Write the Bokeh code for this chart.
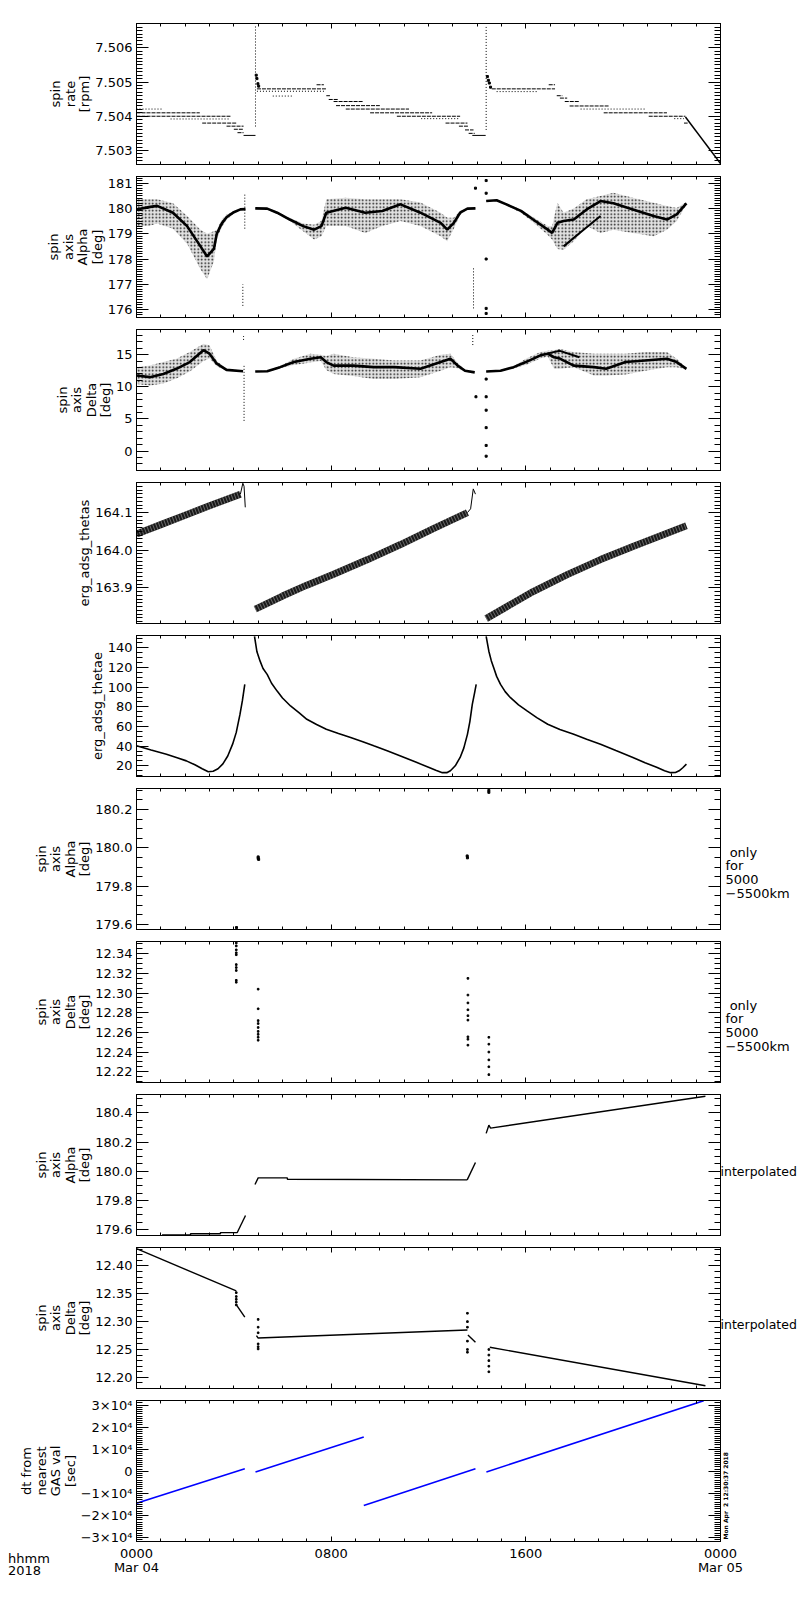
import numpy as np
from bokeh.plotting import figure
from bokeh.layouts import column
from bokeh.models import Range1d, LinearAxis, SingleIntervalTicker, PrintfTickFormatter, Div
from bokeh.embed import file_html
from bokeh.resources import INLINE

FONT = "DejaVu Sans"
FS = "13px"
NB = "\u00a0"

# ---------------- x axis ----------------
hour_ticks = [0, 8, 16, 24]
hour_labels = ["0000\nMar 04", "0800", "1600", "0000\nMar 05"]

# ---------------- panel 1 : spin rate ----------------
sr_t0 = [0.0, 0.0, 0.0, 1.4, 2.7, 3.7, 4.0, 4.15, 4.4,
         4.95, 4.95, 5.6, 7.4, 7.8, 7.9, 8.1, 8.2, 8.6, 9.6, 10.7, 11.7, 12.7, 13.25, 13.5, 13.65, 13.8,
         14.6, 14.8, 16.94, 17.27, 17.4, 17.6, 17.8, 18.25, 19.2, 21.05, 22.1, 22.5]
sr_t1 = [1.1, 2.6, 3.86, 3.86, 4.1, 4.4, 4.4, 4.4, 4.89,
         7.8, 7.75, 6.45, 7.7, 7.95, 8.3, 9.3, 10.0, 11.2, 12.15, 13.3, 13.3, 13.6, 13.65, 13.85, 13.9, 14.35,
         17.2, 16.5, 17.2, 17.5, 17.7, 18.2, 19.4, 20.9, 21.8, 22.56, 22.5, 22.65]
sr_v = [7.50421, 7.50410, 7.50400, 7.50392, 7.50380, 7.50371, 7.50362, 7.50352, 7.50344,
        7.50480, 7.50473, 7.50459, 7.50492, 7.50460, 7.50449, 7.50443, 7.50431, 7.50421, 7.50410,
        7.50400, 7.50393, 7.50380, 7.50371, 7.50360, 7.50350, 7.50344,
        7.50480, 7.50472, 7.50492, 7.50460, 7.50453, 7.50443, 7.50430, 7.50421, 7.50410, 7.50400,
        7.50393, 7.50380]
sr_style = ['o', 'd', 'd', 'o', 'd', 'd', 'd', 'd', 's',
            'd', 'o', 'o', 'd', 'd', 'd', 'd', 'd', 'd', 'd', 'd', 'o', 'd', 'd', 'd', 'd', 's',
            'd', 'o', 'd', 'd', 'd', 'd', 'd', 'o', 'd', 'd', 'o', 'd']
sr_spk_t = [4.89, 14.37]
sr_spk_v0 = [7.5037, 7.5036]
sr_spk_v1 = [7.50665, 7.50665]
sr_pt_t = [4.92, 4.95, 4.99, 5.02, 14.42, 14.46, 14.50, 14.55]
sr_pt_v = [7.50520, 7.50510, 7.50495, 7.50488, 7.50516, 7.50505, 7.50497, 7.50485]
sr_ramp_t = [22.56, 24.0]
sr_ramp_v = [7.50398, 7.50262]

# ---------------- panel 2 : spin axis Alpha ----------------
al1_t = [0.0, 0.5, 0.85, 1.5, 2.08, 2.63, 2.9, 3.18, 3.3, 3.5, 3.7, 4.0, 4.27, 4.48]
al1_c = [179.96, 180.05, 180.1, 179.83, 179.3, 178.5, 178.1, 178.4, 179.0, 179.4, 179.65, 179.85, 179.96, 179.97]
al1_hi = [180.36, 180.36, 180.36, 180.2, 179.7, 179.16, 179.0, 179.1, 179.15, 179.55, 179.75, 179.9, 179.99, 180.0]
al1_lo = [179.3, 179.3, 179.4, 179.2, 178.6, 177.6, 177.2, 177.9, 178.8, 179.25, 179.55, 179.8, 179.93, 179.94]

al2_t = [4.88, 5.37, 5.78, 6.3, 6.85, 7.3, 7.6, 7.8, 8.6, 9.4, 10.1, 10.85, 11.67, 12.5, 12.77, 13.04, 13.3, 13.6, 13.93]
al2_c = [180.0, 179.99, 179.83, 179.56, 179.3, 179.16, 179.3, 179.83, 180.03, 179.83, 179.9, 180.16, 179.83, 179.43, 179.16, 179.43, 179.83, 179.99, 180.0]
al2_hi = [180.01, 180.01, 179.88, 179.62, 179.4, 179.35, 179.5, 180.36, 180.42, 180.36, 180.36, 180.36, 180.23, 179.83, 179.63, 179.63, 179.9, 180.01, 180.01]
al2_lo = [179.98, 179.97, 179.78, 179.5, 179.1, 178.77, 178.9, 179.3, 179.3, 179.03, 179.3, 179.5, 179.3, 178.9, 178.7, 179.2, 179.75, 179.97, 179.98]

al3_t = [14.37, 14.8, 15.2, 15.8, 16.3, 16.9, 17.08, 17.3, 17.55, 17.97, 18.5, 19.07, 19.6, 20.4, 21.25, 21.8, 22.2, 22.6]
al3_c = [180.29, 180.32, 180.16, 179.9, 179.56, 179.16, 179.03, 179.43, 179.5, 179.56, 179.96, 180.29, 180.2, 179.96, 179.7, 179.56, 179.76, 180.2]
al3_hi = [180.31, 180.34, 180.2, 179.95, 179.65, 179.3, 179.3, 180.22, 179.83, 180.0, 180.36, 180.49, 180.62, 180.42, 180.22, 180.09, 180.02, 180.25]
al3_lo = [180.27, 180.29, 180.12, 179.83, 179.45, 178.95, 178.77, 178.4, 178.37, 178.7, 179.3, 179.03, 179.16, 179.03, 178.9, 179.16, 179.5, 180.15]

al_br_t = [17.55, 18.3, 19.07]
al_br_v = [178.5, 179.1, 179.7]
al_spk_t = [4.45, 4.37, 13.85]
al_spk_v0 = [179.2, 176.15, 176.05]
al_spk_v1 = [180.62, 177.0, 177.7]
al_pt_t = [13.93, 14.37, 14.37, 14.37, 14.37, 14.37]
al_pt_v = [180.8, 181.1, 180.6, 178.0, 176.05, 175.85]

# ---------------- panel 3 : spin axis Delta ----------------
de1_t = [0.0, 0.55, 1.1, 1.64, 2.19, 2.75, 3.0, 3.3, 3.7, 4.38]
de1_c = [11.75, 11.5, 12.0, 12.8, 13.85, 15.7, 15.15, 13.6, 12.64, 12.43]
de1_hi = [13.06, 13.3, 13.85, 14.37, 15.4, 16.7, 16.45, 14.0, 12.8, 12.5]
de1_lo = [10.45, 10.2, 10.5, 11.3, 12.4, 14.0, 14.4, 13.2, 12.5, 12.36]

de2_t = [4.88, 5.37, 5.9, 6.47, 7.15, 7.57, 7.8, 8.1, 8.9, 9.75, 10.6, 11.67, 12.5, 12.9, 13.2, 13.5, 13.9]
de2_c = [12.38, 12.43, 13.06, 13.85, 14.37, 14.6, 13.85, 13.3, 13.3, 13.06, 13.06, 12.8, 13.85, 14.37, 13.3, 12.5, 12.25]
de2_hi = [12.45, 12.5, 13.2, 14.37, 15.16, 15.0, 14.8, 15.16, 14.6, 14.37, 14.1, 14.1, 15.0, 15.16, 13.7, 12.7, 12.35]
de2_lo = [12.3, 12.35, 12.9, 13.4, 13.8, 14.0, 12.6, 12.0, 11.7, 11.2, 11.2, 11.5, 12.5, 13.06, 12.9, 12.35, 12.15]

de3_t = [14.37, 14.96, 15.5, 16.0, 16.6, 16.9, 17.16, 17.4, 17.97, 18.8, 19.3, 20.1, 20.9, 21.8, 22.2, 22.6]
de3_c = [12.38, 12.5, 13.06, 13.85, 14.9, 15.16, 14.6, 14.4, 13.3, 13.06, 12.8, 13.85, 14.1, 14.37, 13.85, 12.8]
de3_hi = [12.45, 12.6, 13.2, 14.37, 15.4, 15.6, 15.7, 15.9, 15.4, 15.16, 15.16, 15.16, 15.4, 15.4, 14.37, 12.9]
de3_lo = [12.3, 12.4, 12.9, 13.4, 14.4, 14.7, 12.8, 12.8, 13.06, 11.75, 11.75, 11.9, 12.5, 13.06, 13.06, 12.7]

de_br_t = [16.9, 17.4, 18.2]
de_br_v = [15.2, 15.6, 14.6]
de_spk_t = [4.42, 4.40, 13.82]
de_spk_v0 = [4.7, 17.3, 16.5]
de_spk_v1 = [13.3, 17.9, 18.3]
de_pt_t = [13.95, 14.37, 14.37, 14.37, 14.37, 14.37, 14.37]
de_pt_v = [8.45, 11.2, 8.45, 6.36, 3.64, 0.87, -0.8]

# ---------------- panel 4 : erg_adsg_thetas ----------------
ts1_t = [0.0, 1.0, 2.0, 3.0, 4.27]
ts1_v = [164.043, 164.068, 164.093, 164.118, 164.149]
ts1h_t = [4.27, 4.37, 4.42, 4.47]
ts1h_v = [164.149, 164.178, 164.17, 164.114]
ts2_t = [4.88, 6.0, 7.0, 8.1, 9.5, 10.85, 12.22, 13.6]
ts2_v = [163.843, 163.878, 163.907, 163.936, 163.975, 164.015, 164.058, 164.1]
ts2h_t = [13.6, 13.73, 13.84, 13.93]
ts2h_v = [164.1, 164.11, 164.163, 164.149]
ts3_t = [14.37, 16.3, 17.7, 19.07, 20.4, 22.6]
ts3_v = [163.818, 163.89, 163.935, 163.975, 164.01, 164.065]

# ---------------- panel 5 : erg_adsg_thetae ----------------
te1_t = [0.0, 0.6, 1.23, 1.7, 2.05, 2.4, 2.7, 2.95, 3.15, 3.35, 3.55, 3.75, 3.95, 4.1, 4.25, 4.35, 4.45]
te1_v = [40.3, 36.0, 31.8, 28.0, 25.0, 21.0, 17.0, 14.0, 14.5, 17.0, 22.0, 30.0, 42.0, 54.0, 72.0, 86.0, 102.8]
te2_t = [4.85, 4.95, 5.08, 5.2, 5.37, 5.55, 5.78, 6.0, 6.33, 6.7, 7.0, 7.4, 7.8, 8.3, 8.8, 9.3, 9.75,
         10.3, 10.85, 11.5, 12.0, 12.3, 12.57, 12.75, 12.9, 13.1, 13.3, 13.45, 13.6, 13.7, 13.8, 13.9, 13.96]
te2_v = [151.8, 136.0, 126.5, 119.0, 113.0, 104.0, 96.0, 89.0, 80.9, 73.5, 67.3, 62.0, 57.2, 52.8, 48.7, 44.5, 40.3,
         35.3, 30.0, 23.5, 18.5, 15.5, 13.0, 13.0, 14.9, 20.0, 28.5, 38.0, 52.0, 65.0, 82.5, 95.0, 102.8]
te3_t = [14.37, 14.48, 14.58, 14.68, 14.8, 14.96, 15.15, 15.37, 15.7, 16.05, 16.45, 16.9, 17.4, 17.97, 18.5,
         19.07, 19.7, 20.4, 20.9, 21.4, 21.7, 21.95, 22.15, 22.3, 22.45, 22.6]
te3_v = [151.8, 136.6, 127.0, 119.7, 111.0, 102.8, 95.5, 89.3, 82.0, 75.8, 69.0, 62.3, 57.0, 52.1, 47.0,
         42.0, 35.5, 28.5, 23.0, 18.3, 15.0, 13.0, 13.2, 14.9, 18.0, 21.7]

# ---------------- panel 6 : Alpha only 5000-5500 km ----------------
ao_t = [4.11, 5.0, 5.0, 5.02, 13.59, 13.6, 14.48, 14.48]
ao_v = [179.584, 179.953, 179.945, 179.94, 179.958, 179.948, 180.30, 180.29]

# ---------------- panel 7 : Delta only 5000-5500 km ----------------
do_t = [4.1] * 10 + [5.0] * 9 + [13.62] * 9 + [14.48] * 6
do_v = [12.351, 12.348, 12.344, 12.341, 12.339, 12.329, 12.326, 12.323, 12.313, 12.311,
        12.304, 12.284, 12.272, 12.269, 12.265, 12.261, 12.258, 12.255, 12.252,
        12.315, 12.298, 12.290, 12.283, 12.277, 12.2725, 12.2555, 12.253, 12.247,
        12.255, 12.248, 12.240, 12.232, 12.225, 12.217]

# ---------------- panel 8 : Alpha interpolated ----------------
ai1_t = [1.05, 2.22, 2.22, 3.45, 3.45, 4.13]
ai1_v = [179.561, 179.561, 179.570, 179.570, 179.578, 179.578]
ai2_t = [4.13, 4.48]
ai2_v = [179.575, 179.695]
ai3_t = [4.87, 5.0, 6.2, 6.2, 13.59]
ai3_v = [179.908, 179.954, 179.954, 179.945, 179.94]
ai4_t = [13.59, 13.93]
ai4_v = [179.94, 180.06]
ai5_t = [14.37, 14.48, 14.55, 23.38]
ai5_v = [180.26, 180.316, 180.296, 180.515]

# ---------------- panel 9 : Delta interpolated ----------------
di1_t = [0.0, 4.1]
di1_v = [12.431, 12.355]
di2_t = [4.12, 4.45]
di2_v = [12.329, 12.308]
di4_t = [4.93, 5.0, 13.6]
di4_v = [12.275, 12.2705, 12.285]
di6_t = [13.62, 13.93]
di6_v = [12.276, 12.263]
di7_t = [14.52, 23.38]
di7_v = [12.254, 12.185]
di_pt_t = [4.1] * 5 + [5.0] * 6 + [13.6] * 6 + [14.48] * 5
di_pt_v = [12.352, 12.345, 12.340, 12.335, 12.330,
           12.304, 12.290, 12.280, 12.260, 12.255, 12.251,
           12.315, 12.300, 12.290, 12.265, 12.250, 12.245,
           12.250, 12.240, 12.230, 12.220, 12.210]

# ---------------- panel 10 : dt from nearest GAS val ----------------
dt_seg_t0 = [0.0, 4.89, 9.34, 14.38]
dt_seg_t1 = [4.45, 9.34, 13.93, 23.31]
dt_seg_v0 = [-14500, -300, -15450, -300]
dt_seg_v1 = [1200, 15600, 1200, 32000]
dt_ticks = [30000, 20000, 10000, 0, -10000, -20000, -30000]
dt_labels = ["3×10⁴", "2×10⁴", "1×10⁴", "0", "−1×10⁴", "−2×10⁴", "−3×10⁴"]

# ---------------- panel specifications ----------------
y_ranges = [(7.50259, 7.50671), (175.69, 181.26), (-3.03, 18.92), (163.805, 164.18), (9.1, 152.6),
            (179.574, 180.31), (12.209, 12.3525), (179.558, 180.527), (12.180, 12.433), (-31820, 32100)]
y_intervals = [0.001, 1, 5, 0.1, 20, 0.2, 0.02, 0.2, 0.05, 10000]
y_minor = [10, 10, 5, 10, 4, 4, 4, 4, 5, 10]
y_formats = ["%.3f", "%d", "%d", "%.1f", "%d", "%.1f", "%.2f", "%.1f", "%.2f", "%d"]
y_labels = ["spin\nrate\n[rpm]", "spin\naxis\nAlpha\n[deg]", "spin\naxis\nDelta\n[deg]",
            "erg_adsg_thetas", "erg_adsg_thetae",
            "spin\naxis\nAlpha\n[deg]", "spin\naxis\nDelta\n[deg]",
            "spin\naxis\nAlpha\n[deg]", "spin\naxis\nDelta\n[deg]",
            "dt from\nnearest\nGAS val\n[sec]"]
only_text = NB + "\n" + NB + "\n" + NB + "only\nfor\n5000\n−5500km"
interp_text = NB + "\ninterpolated"
stamp_html = "Mon Apr&nbsp;&nbsp;2 12:30:37 2018"
right_texts = [None, None, None, None, None, only_text, only_text, interp_text, interp_text, None]

FW, FH = 584, 141
N = 10


def style_axis(ax, tick_in, minor_in):
    ax.axis_line_color = "black"
    ax.axis_line_width = 1
    ax.major_tick_line_color = "black"
    ax.minor_tick_line_color = "black"
    ax.major_tick_in = tick_in
    ax.major_tick_out = 0
    ax.minor_tick_in = minor_in
    ax.minor_tick_out = 0
    ax.major_label_text_font = FONT
    ax.major_label_text_font_size = FS
    ax.major_label_text_color = "black"
    ax.axis_label_text_font = FONT
    ax.axis_label_text_font_size = FS
    ax.axis_label_text_font_style = "normal"
    ax.axis_label_text_color = "black"


figs = []
for i in range(N):
    top = 23 if i == 0 else 6
    bot = 45 if i == N - 1 else 6
    p = figure(frame_width=FW, frame_height=FH, x_range=Range1d(0, 24), y_range=Range1d(*y_ranges[i]),
               output_backend="svg", toolbar_location=None,
               min_border_left=136, min_border_right=80, min_border_top=top, min_border_bottom=bot,
               background_fill_color="white", border_fill_color="white")
    p.xgrid.visible = False
    p.ygrid.visible = False
    p.outline_line_color = "black"
    p.outline_line_width = 1

    xa = p.xaxis[0]
    xa.ticker = SingleIntervalTicker(interval=8, num_minor_ticks=8)
    style_axis(xa, 5, 3)
    if i == N - 1:
        xa.major_label_overrides = {k: s for k, s in zip(hour_ticks, hour_labels)}
        xa.major_label_standoff = 4
        xa.major_label_text_line_height = 0.95
    else:
        xa.major_label_text_font_size = "0px"
        xa.major_label_standoff = 0

    xt = LinearAxis(ticker=SingleIntervalTicker(interval=8, num_minor_ticks=8))
    style_axis(xt, 5, 3)
    xt.major_label_text_font_size = "0px"
    xt.major_label_standoff = 0
    p.add_layout(xt, "above")

    ya = p.yaxis[0]
    ya.ticker = SingleIntervalTicker(interval=y_intervals[i], num_minor_ticks=y_minor[i])
    style_axis(ya, 12, 6)
    ya.major_label_standoff = 4
    ya.axis_label = y_labels[i]
    ya.axis_label_standoff = 0
    ya.axis_label_text_line_height = 0.96
    if i == N - 1:
        ya.major_label_overrides = {k: s for k, s in zip(dt_ticks, dt_labels)}
    else:
        ya.formatter = PrintfTickFormatter(format=y_formats[i])

    yr = LinearAxis(ticker=SingleIntervalTicker(interval=y_intervals[i], num_minor_ticks=y_minor[i]))
    style_axis(yr, 12, 6)
    yr.major_label_text_font_size = "0px"
    yr.major_label_standoff = 0
    rt = right_texts[i]
    if rt is not None:
        yr.axis_label = rt
        yr.axis_label_text_line_height = 0.92
        yr.axis_label_orientation = "horizontal"
        yr.axis_label_text_align = "left"
        if rt == interp_text:
            yr.axis_label_text_font_size = "12.5px"
            yr.axis_label_standoff = 0
        else:
            yr.axis_label_standoff = 5
    p.add_layout(yr, "right")
    figs.append(p)


def cloud(p, t, lo, hi, core):
    p.varea(x=t, y1=lo, y2=hi, fill_color="#aaaaaa", fill_alpha=0.35,
            hatch_pattern=".", hatch_color="black", hatch_scale=3.5, hatch_weight=1.2, hatch_alpha=0.9)
    p.line(t, core, line_width=2.6, color="black")


def vspikes(p, t, v0, v1):
    p.segment(x0=t, y0=v0, x1=t, y1=v1, line_color="black", line_width=1, line_dash="1 2")


def dots(p, t, v, size=2):
    p.scatter(t, v, marker="square", size=size, color="black")


# panel 1
p = figs[0]
for sty, dash in (("d", "4 1"), ("o", "1 2"), ("s", "solid")):
    idx = [k for k, s in enumerate(sr_style) if s == sty]
    p.segment(x0=[sr_t0[k] for k in idx], y0=[sr_v[k] for k in idx],
              x1=[sr_t1[k] for k in idx], y1=[sr_v[k] for k in idx],
              line_color="black", line_width=1, line_dash=dash)
vspikes(p, sr_spk_t, sr_spk_v0, sr_spk_v1)
dots(p, sr_pt_t, sr_pt_v)
p.line(sr_ramp_t, sr_ramp_v, line_color="black", line_width=1.5)

# panel 2
p = figs[1]
cloud(p, al1_t, al1_lo, al1_hi, al1_c)
cloud(p, al2_t, al2_lo, al2_hi, al2_c)
cloud(p, al3_t, al3_lo, al3_hi, al3_c)
p.line(al_br_t, al_br_v, line_width=2, color="black")
vspikes(p, al_spk_t, al_spk_v0, al_spk_v1)
dots(p, al_pt_t, al_pt_v)

# panel 3
p = figs[2]
cloud(p, de1_t, de1_lo, de1_hi, de1_c)
cloud(p, de2_t, de2_lo, de2_hi, de2_c)
cloud(p, de3_t, de3_lo, de3_hi, de3_c)
p.line(de_br_t, de_br_v, line_width=2, color="black")
vspikes(p, de_spk_t, de_spk_v0, de_spk_v1)
dots(p, de_pt_t, de_pt_v)

# panel 4
p = figs[3]
for t, v in ((ts1_t, ts1_v), (ts2_t, ts2_v), (ts3_t, ts3_v)):
    p.line(t, v, line_width=7, color="black", line_alpha=0.9)
    p.line(t, v, line_width=7, color="white", line_dash="1 2", line_alpha=0.35)
p.line(ts1h_t, ts1h_v, line_width=1, color="black")
p.line(ts2h_t, ts2h_v, line_width=1, color="black")

# panel 5
p = figs[4]
for t, v in ((te1_t, te1_v), (te2_t, te2_v), (te3_t, te3_v)):
    p.line(t, v, line_width=1.6, color="black")

# panel 6, 7
dots(figs[5], ao_t, ao_v, 2)
dots(figs[6], do_t, do_v, 1.6)

# panel 8
p = figs[7]
for t, v in ((ai1_t, ai1_v), (ai2_t, ai2_v), (ai3_t, ai3_v), (ai4_t, ai4_v), (ai5_t, ai5_v)):
    p.line(t, v, line_width=1.4, color="black")

# panel 9
p = figs[8]
for t, v in ((di1_t, di1_v), (di2_t, di2_v), (di4_t, di4_v), (di6_t, di6_v), (di7_t, di7_v)):
    p.line(t, v, line_width=1.4, color="black")
dots(p, di_pt_t, di_pt_v, 1.6)

# panel 10
p = figs[9]
p.segment(x0=dt_seg_t0, y0=dt_seg_v0, x1=dt_seg_t1, y1=dt_seg_v1, line_color="#0000ff", line_width=1.6)

corner = Div(text="hhmm<br>2018", width=60, height=30, margin=(-33, 0, 0, 8),
             styles={"font-family": FONT, "font-size": "13px", "line-height": "12px", "color": "black"})
stamp = Div(text=stamp_html, width=90, height=7, margin=(-92, 0, 0, 680),
            styles={"font-family": FONT, "font-size": "6px", "font-weight": "bold", "line-height": "7px",
                    "white-space": "nowrap", "color": "black", "transform": "rotate(-90deg)",
                    "transform-origin": "50% 50%"})

layout = column(*figs, corner, stamp, spacing=0)
open("out.html", "w").write(file_html(layout, INLINE))
